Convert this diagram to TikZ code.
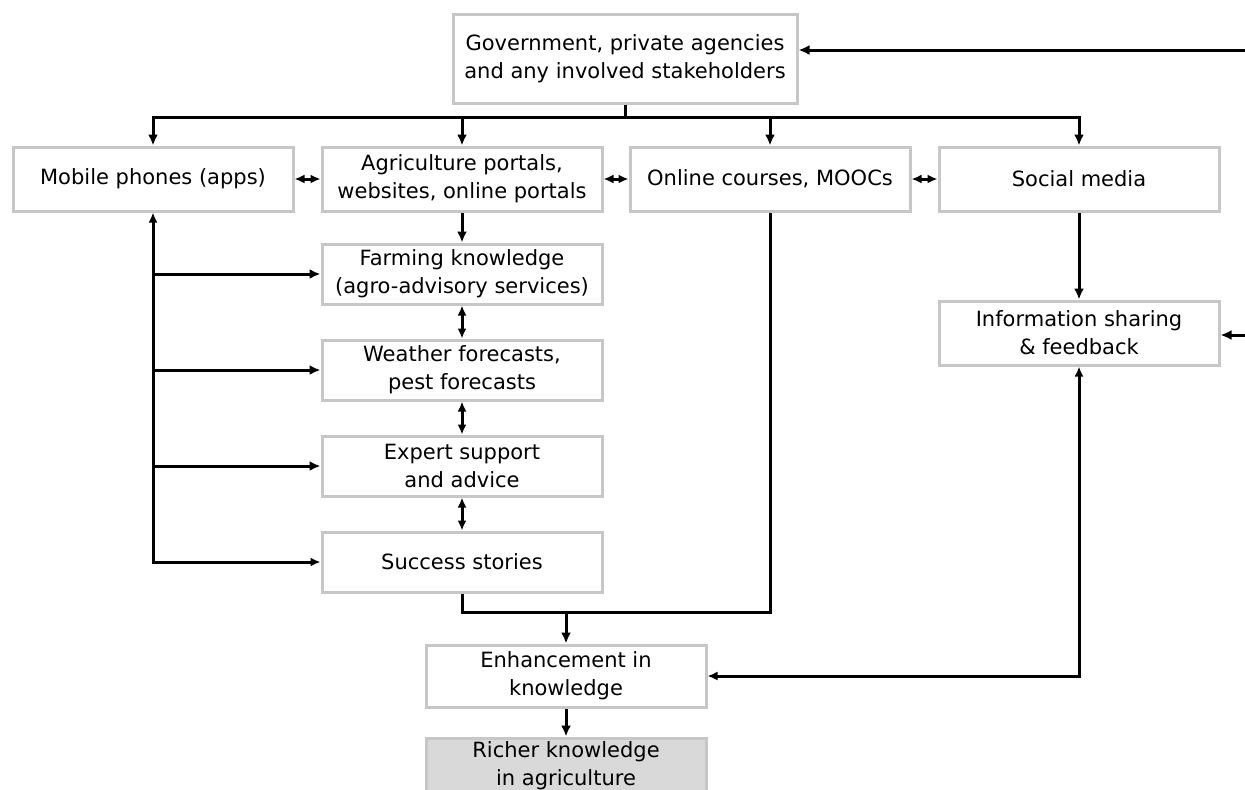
\documentclass[tikz,border=0pt]{standalone}
\usepackage{fontspec}
\setmainfont{DejaVu Sans}
\usetikzlibrary{positioning, arrows.meta}

\begin{document}
\begin{tikzpicture}[
    x=0.5pt, y=-0.5pt,
    node distance=16.5pt,
    every node/.style={font=\fontsize{10.5}{14}\selectfont, align=center},
    box/.style={draw=black!22, line width=1.5pt, fill=white, minimum width=140pt, minimum height=30pt, inner sep=2pt},
    rowbox/.style={box, minimum height=32pt},
    final/.style={box, fill=black!15},
    link/.style={line width=1.5pt, draw=black},
    arrow/.style={link, -{Latex[length=5.5pt,width=5pt]}},
    twoway/.style={link, {Latex[length=5pt,width=4.5pt]}-{Latex[length=5pt,width=4.5pt]}}
]
\useasboundingbox (0,0) rectangle (1245,789);

\node[box, minimum width=172pt, minimum height=44.5pt] (gov) at (625,58.5) {Government, private agencies\\and any involved stakeholders};

\node[rowbox] (mobile) at (153,179) {Mobile phones (apps)};
\node[rowbox] (agri) at (462,179) {Agriculture portals,\\websites, online portals};
\node[rowbox] (online) at (770,179) {Online courses, MOOCs};
\node[rowbox] (social) at (1079,179) {Social media};

\node[box, below=15pt of agri] (farming) {Farming knowledge\\(agro-advisory services)};
\node[box, below=of farming] (weather) {Weather forecasts,\\pest forecasts};
\node[box, below=of weather] (expert) {Expert support\\and advice};
\node[box, below=of expert] (success) {Success stories};

\node[rowbox] (info) at (1079,333) {Information sharing\\\& feedback};

\node[box, minimum height=31pt] (enhance) at (566,676) {Enhancement in\\knowledge};
\node[final, minimum height=27pt, below=14pt of enhance] (richer) {Richer knowledge\\in agriculture};

\coordinate (split) at (625,117);
\coordinate (govin) at (1245,50);
\coordinate (infoin) at (1245,335);
\coordinate (merge) at (566,612);

% top distribution
\draw[link] (gov) -- (split);
\foreach \n in {mobile, agri, online, social}
    \draw[arrow] (split) -| (\n);
\draw[arrow] (govin) -- (gov.east |- govin);

% first row
\draw[twoway] (mobile) -- (agri);
\draw[twoway] (agri) -- (online);
\draw[twoway] (online) -- (social);

% column of services
\draw[arrow] (agri) -- (farming);
\draw[twoway] (farming) -- (weather);
\draw[twoway] (weather) -- (expert);
\draw[twoway] (expert) -- (success);

\draw[twoway] (success) -| (mobile);
\foreach \n in {farming, weather, expert}
    \draw[arrow] (mobile |- \n) -- (\n);

% towards knowledge
\draw[link] (success) |- (online |- merge) -- (online);
\draw[arrow] (merge) -- (enhance);
\draw[arrow] (enhance) -- (richer);

\draw[arrow] (social) -- (info);
\draw[arrow] (infoin) -- (info.east |- infoin);
\draw[twoway] (info) |- (enhance);

\end{tikzpicture}
\end{document}
